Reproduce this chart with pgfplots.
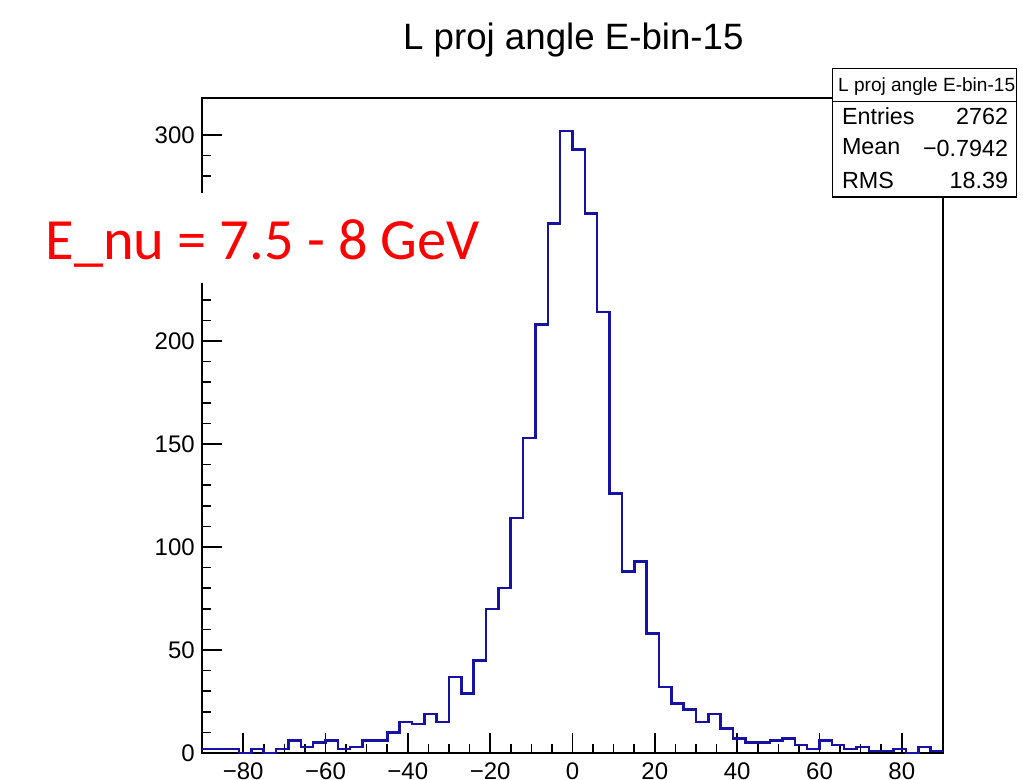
\documentclass[border=0pt]{standalone}
\usepackage{pgfplots}
\usepackage{pgfplotstable}
\pgfplotsset{compat=1.18}
\usepackage{fontspec}
\setmainfont{Liberation Sans}
\newfontfamily\calibri{Carlito}
\definecolor{histblue}{RGB}{22,18,165}

\pgfplotstableread{
x y
-90 2
-87 2
-84 2
-81 0
-78 2
-75 0
-72 2
-69 6
-66 3
-63 5
-60 6
-57 2
-54 3
-51 6
-48 6
-45 10
-42 15
-39 14
-36 19
-33 15
-30 37
-27 29
-24 45
-21 70
-18 80
-15 114
-12 153
-9 208
-6 257
-3 302
0 293
3 262
6 214
9 126
12 88
15 93
18 58
21 32
24 24
27 21
30 15
33 19
36 12
39 7
42 5
45 5
48 6
51 7
54 4
57 2
60 6
63 4
66 2
69 3
72 1
75 1
78 2
81 0
84 3
87 1
90 1
}\histdata

\begin{document}
\begin{tikzpicture}[x=1pt,y=1pt]
\useasboundingbox (-151.5,-19.5) rectangle (615.75,564.75);
\begin{axis}[at={(0,0)}, anchor=south west, scale only axis,
  width=555.75pt, height=491.25pt,
  xmin=-90, xmax=90, ymin=0, ymax=318,
  axis line style={line width=1.2pt},
  tick align=inside, xtick pos=bottom, ytick pos=left,
  xtick={-80,-60,-40,-20,0,20,40,60,80},
  xticklabels={−80,−60,−40,−20,0,20,40,60,80},
  ytick={0,50,100,150,200,250,300},
  yticklabels={0,50,100,150,200,,300},
  minor x tick num=3, minor y tick num=4,
  major tick length=15pt, minor tick length=7pt,
  tick style={line width=1.2pt, black},
  ticklabel style={font=\fontsize{18}{18}\selectfont},
  xticklabel style={anchor=north, inner sep=0pt, yshift=-6.75pt},
  yticklabel style={anchor=east, inner sep=0pt, xshift=-5.25pt},
]
\addplot[const plot, histblue, line width=1.9pt] table[x=x,y=y] {\histdata};
\end{axis}
% white box behind red label
\fill[white] (-129,352.5) rectangle (216,420);
\node[anchor=base west, inner sep=0pt, text=red, font=\calibri\fontsize{43.8}{43.8}\selectfont] at (-117.5,370.3) {E\_nu = 7.5 - 8 GeV};
% title
\node[anchor=base, inner sep=0pt, font=\fontsize{27.5}{27.5}\selectfont] at (278.5,527.8) {L proj angle E-bin-15};
% stats box
\filldraw[fill=white, draw=black, line width=1.2pt] (473,417.2) rectangle (611,513.5);
\draw[line width=1.2pt] (473,488.5) -- (611,488.5);
\node[anchor=base, inner sep=0pt, font=\fontsize{14.3}{14.3}\selectfont] at (543.5,496) {L proj angle E-bin-15};
\node[anchor=base west, inner sep=0pt, font=\fontsize{17.5}{17.5}\selectfont] at (479.8,471) {Entries};
\node[anchor=base east, inner sep=0pt, font=\fontsize{17.5}{17.5}\selectfont] at (604.7,471) {2762};
\node[anchor=base west, inner sep=0pt, font=\fontsize{17.5}{17.5}\selectfont] at (479.8,449) {Mean};
\node[anchor=base east, inner sep=0pt, font=\fontsize{17.5}{17.5}\selectfont] at (604.7,447.2) {−0.7942};
\node[anchor=base west, inner sep=0pt, font=\fontsize{17.5}{17.5}\selectfont] at (479.8,423.5) {RMS};
\node[anchor=base east, inner sep=0pt, font=\fontsize{17.5}{17.5}\selectfont] at (604.7,423.5) {18.39};
\end{tikzpicture}
\end{document}
